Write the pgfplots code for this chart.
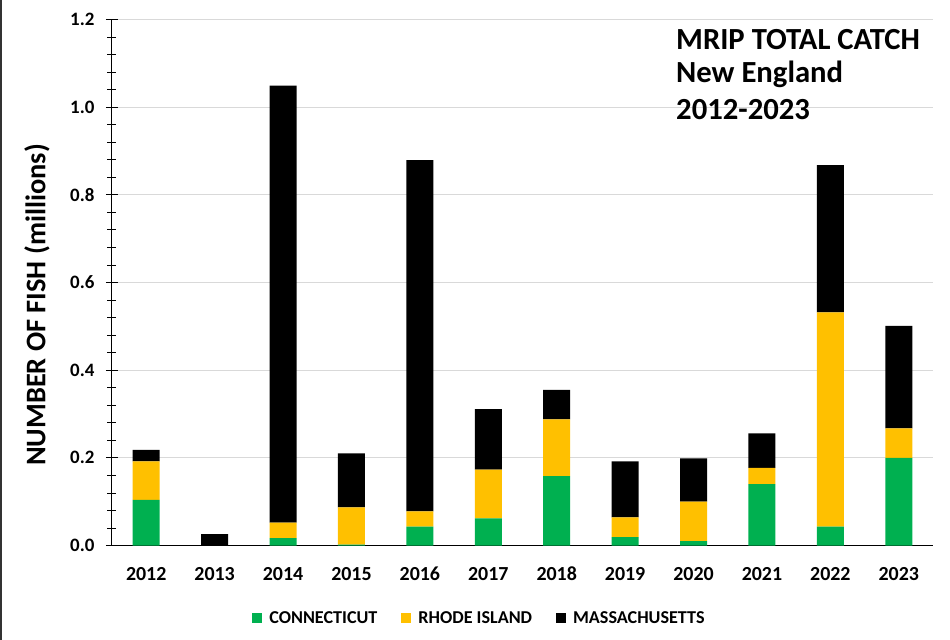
\documentclass[border=0pt]{standalone}
\usepackage{fontspec}
\setmainfont{Carlito}
\usepackage{pgfplots}
\pgfplotsset{compat=1.18}
\definecolor{ctgreen}{HTML}{00B050}
\definecolor{riyellow}{HTML}{FFC000}
\begin{document}
\begin{tikzpicture}
\useasboundingbox (-112bp,-94.5bp) rectangle (838bp,545.5bp);
\draw[line width=1.2bp, black!80] (-111bp,-94.5bp) -- (-111bp,545.5bp);
\begin{axis}[
  scale only axis, width=821bp, height=526bp,
  at={(0bp,0bp)}, anchor=south west,
  ybar stacked, bar width=27bp,
  xmin=-0.5, xmax=11.5, ymin=0, ymax=1.2,
  xtick={0,...,11},
  xticklabels={2012,2013,2014,2015,2016,2017,2018,2019,2020,2021,2022,2023},
  xtick style={draw=none},
  xticklabel style={font=\bfseries\fontsize{20}{24}\selectfont, yshift=-12bp},
  ytick={0,0.2,...,1.2},
  minor y tick num=4,
  yticklabel style={font=\bfseries\fontsize{19}{22}\selectfont, xshift=-8bp},
  /pgf/number format/.cd, fixed, fixed zerofill, precision=1, assume math mode=true,
  /pgfplots/.cd,
  axis x line*=bottom, axis y line*=left,
  x axis line style={line width=1.5bp, black},
  y axis line style={line width=1bp, black},
  ytick style={black, line width=0.8bp},
  major tick length=12bp, minor tick length=9bp,
  tick align=center,
  ymajorgrids, major grid style={draw=gray!30, line width=1bp},
  ylabel={NUMBER OF FISH (millions)},
  every axis y label/.style={at={(axis description cs:-0.0913,0.457)}, rotate=90, anchor=center, font=\bfseries\fontsize{28.5}{32}\selectfont},
  legend columns=3,
  legend style={at={(axis description cs:0.4476,-0.1378)}, anchor=center, draw=none, fill=none,
    font=\bfseries\fontsize{18.2}{21}\selectfont,
    /tikz/every odd column/.append style={column sep=5bp},
    /tikz/every even column/.append style={column sep=22bp}},
  every axis plot/.append style={legend image code/.code={\fill[##1] (0bp,-5bp) rectangle (10bp,5bp);}},
]
\addplot[fill=ctgreen, draw=none] coordinates {
(0,0.104) (1,0.0) (2,0.017) (3,0.002) (4,0.043) (5,0.062) (6,0.158) (7,0.019) (8,0.010) (9,0.140) (10,0.043) (11,0.200)};
\addlegendentry{CONNECTICUT}
\addplot[fill=riyellow, draw=none] coordinates {
(0,0.088) (1,0.0) (2,0.035) (3,0.085) (4,0.035) (5,0.111) (6,0.130) (7,0.045) (8,0.090) (9,0.037) (10,0.489) (11,0.067)};
\addlegendentry{RHODE ISLAND}
\addplot[fill=black, draw=none] coordinates {
(0,0.026) (1,0.026) (2,0.997) (3,0.123) (4,0.801) (5,0.138) (6,0.067) (7,0.128) (8,0.099) (9,0.079) (10,0.336) (11,0.234)};
\addlegendentry{MASSACHUSETTS}
\end{axis}
\node[anchor=base west, inner sep=0, font=\bfseries\fontsize{30.8}{35}\selectfont] at (564bp,496.2bp) {MRIP TOTAL CATCH};
\node[anchor=base west, inner sep=0, font=\bfseries\fontsize{30.8}{35}\selectfont] at (564bp,462.8bp) {New England};
\node[anchor=base west, inner sep=0, font=\bfseries\fontsize{30.8}{35}\selectfont] at (564bp,425.5bp) {2012-2023};
\end{tikzpicture}
\end{document}
